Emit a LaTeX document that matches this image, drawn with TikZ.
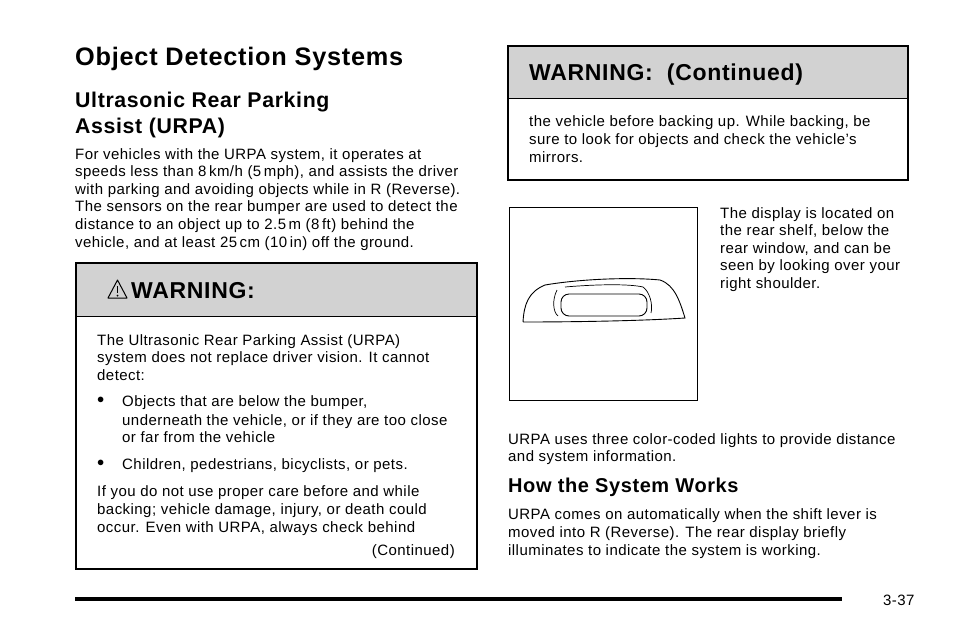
\documentclass[tikz,border=0pt]{standalone}
\usepackage{fontspec}
\setmainfont[LetterSpace=3]{Liberation Sans}
\begin{document}
\begin{tikzpicture}[x=1pt,y=-1pt,
  body/.style={anchor=base west,inner sep=0pt,font=\fontsize{15}{18}\selectfont},
  head/.style={anchor=base west,inner sep=0pt,font=\fontsize{21.3}{25}\selectfont\bfseries},
  boxhead/.style={anchor=base west,inner sep=0pt,font=\fontsize{23}{27}\selectfont\bfseries}]
\useasboundingbox (0,0) rectangle (954,638);
% title
\node[anchor=base west,inner sep=0pt,font=\fontsize{25.3}{30}\selectfont\bfseries] (title) at (75,65) {Object Detection Systems};
\node[head] (h1) at (75,107) {Ultrasonic Rear Parking};
\node[head] (h2) at (75,133) {Assist (URPA)};
\node[body] (p1) at (75,159) {For vehicles with the URPA system, it operates at};
\node[body] (p2) at (75,176.6) {speeds less than 8\,km/h (5\,mph), and assists the driver};
\node[body] (p3) at (75,194.2) {with parking and avoiding objects while in R (Reverse).};
\node[body] (p4) at (75,211.8) {The sensors on the rear bumper are used to detect the};
\node[body] (p5) at (75,229.4) {distance to an object up to 2.5\,m (8\,ft) behind the};
\node[body] (p6) at (75,247) {vehicle, and at least 25\,cm (10\,in) off the ground.};
% warning box
\fill[gray!35] (76,263) rectangle (477,316);
\draw[line width=1.3pt] (76,263) rectangle (477,569);
\draw[line width=1pt] (76,316) -- (477,316);
\draw[line width=1pt,line join=round] (108,298) -- (117.5,280) -- (127,298) -- cycle;
\draw[line width=1.4pt] (117.5,286) -- (117.5,293);
\fill (117.5,295.5) circle (1);
\node[boxhead] (wt) at (131,298) {WARNING:};
\node[body] (w1) at (97,345) {The Ultrasonic Rear Parking Assist (URPA)};
\node[body] (w2) at (97,362) {system does not replace driver vision. It cannot};
\node[body] (w3) at (97,380) {detect:};
\node[body] (b1) at (97,403) {$\bullet$};
\node[body] (w4) at (122,406) {Objects that are below the bumper,};
\node[body] (w5) at (122,425) {underneath the vehicle, or if they are too close};
\node[body] (w6) at (122,442) {or far from the vehicle};
\node[body] (b2) at (97,466) {$\bullet$};
\node[body] (w7) at (122,469) {Children, pedestrians, bicyclists, or pets.};
\node[body] (w8) at (97,496) {If you do not use proper care before and while};
\node[body] (w9) at (97,514) {backing; vehicle damage, injury, or death could};
\node[body] (w10) at (97,532) {occur. Even with URPA, always check behind};
\node[body,anchor=base east] (wc) at (455,555) {(Continued)};
% right warning box
\fill[gray!35] (508,46) rectangle (908,98);
\draw[line width=1.3pt] (508,46) rectangle (908,180);
\draw[line width=1pt] (508,98) -- (908,98);
\node[boxhead] (wt2) at (529,80) {WARNING:\ \ (Continued)};
\node[body] (r1) at (529,126) {the vehicle before backing up. While backing, be};
\node[body] (r2) at (529,144) {sure to look for objects and check the vehicle's};
\node[body] (r3) at (529,162) {mirrors.};
% image
\draw[line width=1pt] (509,207) rectangle (697,400);
\draw[line width=0.9pt] (523,322) .. controls (524,305) and (528,292) .. (545,285)
  .. controls (580,279) and (630,277) .. (660,280)
  .. controls (675,285) and (680,302) .. (685,318)
  .. controls (640,321) and (570,322) .. (523,322);
\draw[line width=0.7pt] (565,287) .. controls (600,284) and (630,284) .. (643,287)
  .. controls (650,292) and (653,305) .. (651,313);
\draw[line width=0.7pt] (557,290) .. controls (552,300) and (553,312) .. (558,316);
\draw[line width=0.9pt,rounded corners=8] (561,294) rectangle (647,316);
\node[body] (s1) at (720,218) {The display is located on};
\node[body] (s2) at (720,235.6) {the rear shelf, below the};
\node[body] (s3) at (720,253.2) {rear window, and can be};
\node[body] (s4) at (720,270.8) {seen by looking over your};
\node[body] (s5) at (720,288.4) {right shoulder.};
\node[body] (q1) at (508,444) {URPA uses three color-coded lights to provide distance};
\node[body] (q2) at (508,461) {and system information.};
\node[anchor=base west,inner sep=0pt,font=\fontsize{20}{24}\selectfont\bfseries] (h3) at (508,492) {How the System Works};
\node[body] (u1) at (508,519) {URPA comes on automatically when the shift lever is};
\node[body] (u2) at (508,537) {moved into R (Reverse). The rear display briefly};
\node[body] (u3) at (508,555) {illuminates to indicate the system is working.};
% footer
\draw[line width=4pt] (75,599) -- (842,599);
\node[body] (pg) at (883,605) {3-37};
\end{tikzpicture}
\end{document}
